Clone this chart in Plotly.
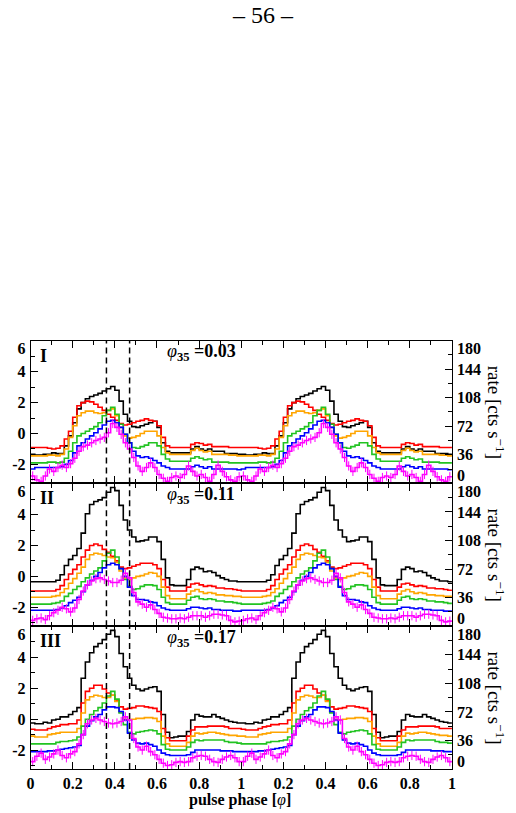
import numpy as np
import plotly.graph_objects as go

# ---------------- data (one pulse cycle, 50 phase bins of width 0.02) ----------------
N_BINS = 50
PANEL_NAMES = ["I", "II", "III"]
PANEL_PHI = ["0.03", "0.11", "0.17"]
DASH_PHASES = [0.36, 0.47]

X_TICK_VALUES = [0, 0.2, 0.4, 0.6, 0.8, 1.0, 1.2, 1.4, 1.6, 1.8, 2.0]
X_TICK_LABELS = ["0", "0.2", "0.4", "0.6", "0.8", "1", "0.2", "0.4", "0.6", "0.8", "1"]
X_MINOR_TICKS = [0.1, 0.3, 0.5, 0.7, 0.9, 1.1, 1.3, 1.5, 1.7, 1.9]
Y_TICK_VALUES = [-2, 0, 2, 4, 6]
Y_MINOR_TICKS = [-3, -1, 1, 3, 5]
Y_TICK_LABELS = ["-2", "0", "2", "4", "6"]
# label positions (edge labels are nudged inside the panel, as in the reference)
Y_LABEL_POS = [-2, 0, 2, 4, 5.5]
RATE_TICK_VALUES = [0, 36, 72, 108, 144, 180]
RATE_MINOR_TICKS = [18, 54, 90, 126, 162]
RATE_TICK_LABELS = ["0", "36", "72", "108", "144", "180"]
RATE_LABEL_POS = [10, 36, 72, 108, 144, 170]

SERIES_COLORS = ["#000000", "#ff0000", "#ffa500", "#22c322", "#0000ff", "#ff00ff"]

P1_BLACK = [-1.35, -1.4, -1.4, -1.35, -1.35, -1.25, -1.3, -1.3, -0.8, -0.15,
            0.7, 1.6, 2.0, 2.25, 2.4, 2.5, 2.6, 2.75, 2.9, 3.05,
            2.8, 2.1, 1.25, 0.8, 0.45, 0.4, 0.5, 0.6, 0.7, 0.8,
            0.4, -0.6, -1.15, -1.25, -1.25, -1.25, -1.25, -1.25, -1.0, -0.85,
            -1.0, -1.1, -1.0, -1.15, -1.15, -1.15, -1.3, -1.3, -1.3, -1.35]
P1_RED = [-0.9, -0.9, -0.9, -0.9, -0.95, -1.0, -0.95, -0.8, -0.35, 0.15,
          1.05, 1.8, 2.0, 2.1, 2.05, 1.9, 1.7, 1.5, 1.25, 1.05,
          0.85, 0.65, 0.55, 0.6, 0.7, 0.8, 0.85, 0.95, 0.85, 0.8,
          0.5, -0.25, -0.8, -0.9, -0.9, -0.9, -0.9, -0.9, -0.7, -0.6,
          -0.65, -0.75, -0.7, -0.85, -0.85, -0.85, -0.85, -0.9, -0.9, -0.9]
P1_ORANGE = [-1.45, -1.45, -1.45, -1.45, -1.4, -1.4, -1.45, -1.35, -1.0, -0.25,
             0.5, 1.15, 1.35, 1.45, 1.45, 1.35, 1.3, 1.35, 1.5, 1.6,
             1.15, 0.4, -0.15, -0.3, -0.25, -0.15, 0.0, 0.15, 0.15, 0.15,
             -0.15, -0.9, -1.25, -1.35, -1.35, -1.35, -1.35, -1.35, -1.1, -0.95,
             -1.1, -1.2, -1.15, -1.35, -1.35, -1.35, -1.35, -1.4, -1.4, -1.45]
P1_GREEN = [-1.9, -1.9, -1.9, -1.9, -1.85, -1.85, -1.9, -1.85, -1.6, -1.15,
            -0.6, -0.15, 0.0, 0.15, 0.3, 0.45, 0.7, 1.15, 1.5, 1.7,
            1.25, 0.6, -0.05, -0.6, -0.9, -0.95, -0.85, -0.75, -0.6, -0.6,
            -0.8, -1.35, -1.65, -1.8, -1.8, -1.8, -1.8, -1.8, -1.6, -1.5,
            -1.6, -1.7, -1.65, -1.85, -1.85, -1.85, -1.85, -1.9, -1.9, -1.9]
P1_BLUE = [-2.3, -2.2, -2.2, -2.2, -2.2, -2.2, -2.2, -2.15, -2.0, -1.75,
           -1.25, -0.8, -0.6, -0.35, -0.15, 0.05, 0.3, 0.55, 0.8, 0.85,
           0.7, 0.4, -0.05, -0.6, -1.15, -1.45, -1.55, -1.5, -1.6, -1.75,
           -1.9, -2.1, -2.2, -2.3, -2.3, -2.3, -2.3, -2.3, -2.15, -2.05,
           -2.15, -2.25, -2.15, -2.3, -2.3, -2.3, -2.3, -2.3, -2.3, -2.35]
P1_MAGENTA = [-2.75, -3.0, -3.1, -2.75, -2.3, -2.45, -2.2, -2.05, -2.2, -1.95,
              -1.6, -1.15, -0.85, -0.75, -0.6, -0.45, -0.35, -0.25, 0.05, 0.65,
              0.4, -0.05, -0.6, -1.0, -1.55, -2.1, -2.45, -2.2, -1.9, -2.2,
              -2.65, -2.9, -3.1, -2.85, -2.75, -2.85, -2.65, -2.1, -2.45, -2.75,
              -2.65, -2.85, -3.1, -2.65, -2.05, -2.45, -2.8, -3.0, -3.1, -2.8]

P2_BLACK = [-0.35, -0.35, -0.35, -0.35, -0.35, -0.35, -0.25, 0.1, 0.7, 1.1,
            1.35, 1.8, 2.8, 4.05, 4.65, 4.85, 4.95, 5.1, 5.45, 5.75,
            5.55, 4.6, 3.65, 3.0, 2.55, 2.25, 2.3, 2.35, 2.55, 2.55,
            2.25, 1.1, -0.1, -0.55, -0.6, -0.6, -0.6, -0.2, 0.45, 0.6,
            0.5, 0.3, 0.35, 0.25, 0.05, -0.1, -0.2, -0.3, -0.3, -0.35]
P2_RED = [-0.95, -0.95, -0.95, -0.95, -0.95, -0.95, -0.85, -0.6, -0.2, 0.15,
          0.45, 0.75, 1.25, 1.7, 2.0, 2.1, 2.0, 1.75, 1.55, 1.3,
          1.0, 0.6, 0.5, 0.55, 0.65, 0.75, 0.85, 0.85, 0.85, 0.75,
          0.5, -0.2, -0.7, -0.95, -0.95, -0.95, -0.95, -0.7, -0.5, -0.45,
          -0.55, -0.65, -0.6, -0.65, -0.75, -0.75, -0.8, -0.8, -0.85, -0.9]
P2_ORANGE = [-1.35, -1.35, -1.35, -1.35, -1.35, -1.3, -1.25, -1.05, -0.8, -0.45,
             -0.15, 0.2, 0.6, 1.1, 1.4, 1.5, 1.45, 1.35, 1.25, 1.2,
             0.9, 0.35, -0.1, -0.2, -0.1, 0.0, 0.05, 0.15, 0.25, 0.2,
             0.0, -0.7, -1.25, -1.45, -1.45, -1.45, -1.45, -1.15, -0.95, -0.85,
             -1.0, -1.1, -1.05, -1.1, -1.2, -1.2, -1.25, -1.25, -1.3, -1.3]
P2_GREEN = [-1.8, -1.8, -1.8, -1.8, -1.8, -1.75, -1.7, -1.6, -1.3, -1.1,
            -0.85, -0.65, -0.35, -0.1, 0.15, 0.35, 0.55, 1.0, 1.5, 1.7,
            1.25, 0.5, -0.2, -0.65, -0.85, -0.8, -0.65, -0.55, -0.55, -0.6,
            -0.85, -1.35, -1.7, -1.8, -1.8, -1.8, -1.8, -1.55, -1.35, -1.3,
            -1.45, -1.5, -1.45, -1.5, -1.6, -1.6, -1.65, -1.65, -1.7, -1.75]
P2_BLUE = [-2.2, -2.2, -2.2, -2.2, -2.2, -2.2, -2.15, -2.05, -1.9, -1.7,
           -1.55, -1.35, -1.0, -0.55, -0.25, 0.0, 0.25, 0.55, 0.75, 0.85,
           0.75, 0.5, 0.0, -0.7, -1.25, -1.5, -1.5, -1.55, -1.65, -1.7,
           -1.9, -2.05, -2.15, -2.2, -2.2, -2.2, -2.2, -2.1, -2.0, -2.0,
           -2.05, -2.1, -2.05, -2.15, -2.15, -2.2, -2.2, -2.2, -2.25, -2.25]
P2_MAGENTA = [-2.85, -2.75, -2.7, -2.8, -2.55, -2.35, -2.2, -2.0, -2.1, -2.3,
              -2.05, -1.5, -0.95, -0.55, -0.3, -0.15, -0.1, -0.2, -0.3, -0.4,
              -0.4, -0.25, 0.2, -0.1, -1.05, -1.65, -1.8, -2.0, -1.85, -2.15,
              -2.4, -2.65, -2.7, -2.75, -2.75, -2.7, -2.75, -2.65, -2.55, -2.55,
              -2.55, -2.65, -2.55, -2.45, -2.45, -2.5, -2.55, -2.85, -2.95, -2.9]

P3_BLACK = [-0.25, -0.3, -0.3, -0.2, -0.25, -0.05, 0.0, 0.15, 0.15, 0.3,
            0.5, 0.75, 2.65, 3.7, 4.3, 4.7, 4.9, 5.15, 5.5, 5.75,
            5.35, 4.25, 3.4, 2.65, 2.2, 1.95, 1.85, 1.95, 2.05, 2.1,
            1.8, 0.3, -0.85, -1.2, -1.15, -1.1, -1.1, -0.8, -0.05, 0.3,
            0.2, 0.15, 0.15, 0.3, 0.15, 0.05, -0.05, -0.15, -0.2, -0.25]
P3_RED = [-0.65, -0.7, -0.7, -0.7, -0.6, -0.5, -0.45, -0.35, -0.35, -0.3,
          -0.3, -0.05, 1.05, 1.8, 2.0, 2.2, 2.2, 1.95, 1.7, 1.55,
          1.2, 0.8, 0.65, 0.7, 0.75, 0.85, 0.85, 0.8, 0.75, 0.7,
          0.5, -0.6, -1.2, -1.4, -1.4, -1.4, -1.4, -1.1, -0.7, -0.5,
          -0.5, -0.5, -0.45, -0.45, -0.45, -0.45, -0.5, -0.6, -0.6, -0.6]
P3_ORANGE = [-1.1, -1.15, -1.15, -1.15, -1.0, -0.95, -0.9, -0.85, -0.85, -0.85,
             -0.85, -0.6, 0.4, 1.25, 1.45, 1.55, 1.5, 1.4, 1.4, 1.55,
             1.15, 0.45, 0.0, -0.05, 0.0, 0.05, 0.05, 0.1, 0.1, 0.05,
             -0.15, -1.1, -1.6, -1.75, -1.75, -1.75, -1.75, -1.5, -1.1, -0.9,
             -0.95, -0.9, -0.85, -0.85, -0.9, -0.95, -1.0, -1.05, -1.05, -1.1]
P3_GREEN = [-1.6, -1.6, -1.6, -1.6, -1.6, -1.6, -1.5, -1.45, -1.45, -1.4,
            -1.35, -1.15, -0.45, 0.0, 0.3, 0.55, 0.75, 1.05, 1.5, 1.8,
            1.3, 0.4, -0.35, -0.85, -0.95, -0.85, -0.8, -0.75, -0.7, -0.75,
            -0.95, -1.65, -1.95, -2.0, -2.0, -2.0, -2.0, -1.8, -1.5, -1.35,
            -1.4, -1.35, -1.35, -1.35, -1.35, -1.35, -1.45, -1.5, -1.5, -1.55]
P3_BLUE = [-2.1, -2.1, -2.1, -2.1, -2.05, -2.05, -2.0, -1.95, -1.9, -1.85,
           -1.8, -1.7, -1.0, -0.45, -0.1, 0.15, 0.3, 0.6, 0.8, 0.8,
           0.75, 0.5, -0.05, -0.9, -1.35, -1.55, -1.6, -1.55, -1.65, -1.75,
           -2.0, -2.2, -2.3, -2.35, -2.35, -2.35, -2.35, -2.3, -2.15, -2.0,
           -2.0, -2.0, -2.0, -2.0, -2.0, -2.05, -2.05, -2.05, -2.1, -2.1]
P3_MAGENTA = [-2.75, -2.4, -2.2, -2.6, -2.45, -2.25, -2.0, -2.35, -2.5, -2.25,
              -2.1, -1.6, -1.0, -0.3, -0.05, 0.05, -0.05, -0.15, -0.25, -0.3,
              -0.25, -0.15, 0.15, -0.05, -1.25, -1.8, -2.0, -1.75, -2.1, -2.3,
              -2.6, -2.85, -3.0, -2.95, -2.8, -2.75, -2.8, -2.75, -2.5, -2.4,
              -2.35, -2.4, -2.6, -2.75, -2.8, -2.6, -2.45, -2.35, -2.5, -2.75]

PANELS = [
    [P1_BLACK, P1_RED, P1_ORANGE, P1_GREEN, P1_BLUE, P1_MAGENTA],
    [P2_BLACK, P2_RED, P2_ORANGE, P2_GREEN, P2_BLUE, P2_MAGENTA],
    [P3_BLACK, P3_RED, P3_ORANGE, P3_GREEN, P3_BLUE, P3_MAGENTA],
]
MAGENTA_ERR = 0.3

# ---------------- layout geometry (pixels) ----------------
W, H = 516, 813
PLOT_LEFT, PLOT_RIGHT = 27, 455
PANEL_TOPS = [341, 484, 627]
PANEL_H = 143
Y_RANGE = [-3.23, 6.02]
RATE_RANGE = [0, 180]


def px_x(p):
    return p / W


def px_y(p):
    return 1 - p / H


edges = np.linspace(0.0, 2.0, 2 * N_BINS + 1)
centers = 0.5 * (edges[:-1] + edges[1:])

fig = go.Figure()
tick_font = dict(family="Liberation Serif", size=16, color="black", weight="bold")
LINE_W = 1.2


def axis_name(n):
    return "y" if n == 1 else f"y{n}"


def axis_key(n):
    return "yaxis" if n == 1 else f"yaxis{n}"


for i, series in enumerate(PANELS):
    xname = "x" if i == 0 else f"x{i + 1}"
    xkey = "xaxis" if i == 0 else f"xaxis{i + 1}"
    n0 = 4 * i + 1
    yl, yl_lab, yr, yr_lab = (axis_name(n0), axis_name(n0 + 1),
                              axis_name(n0 + 2), axis_name(n0 + 3))

    for vals, col in zip(series, SERIES_COLORS):
        two = list(vals) + list(vals)
        fig.add_trace(go.Scatter(
            x=edges, y=two + [two[-1]], mode="lines", line_shape="hv",
            line=dict(color=col, width=1.6), xaxis=xname, yaxis=yl,
            showlegend=False, hoverinfo="skip"))
    mag = list(series[5]) + list(series[5])
    fig.add_trace(go.Scatter(
        x=centers, y=mag, mode="markers", marker=dict(size=1, color="#ff00ff"),
        error_y=dict(type="constant", value=MAGENTA_ERR, thickness=1, width=0, color="#ff00ff"),
        xaxis=xname, yaxis=yl, showlegend=False, hoverinfo="skip"))
    # invisible traces so that the overlay axes are drawn
    for ya, rng in ((yl_lab, Y_RANGE), (yr, RATE_RANGE), (yr_lab, RATE_RANGE)):
        fig.add_trace(go.Scatter(x=[0], y=[rng[0]], mode="lines", line=dict(width=0),
                                 xaxis=xname, yaxis=ya, showlegend=False, hoverinfo="skip"))

    top = PANEL_TOPS[i]
    dom = [px_y(top + PANEL_H), px_y(top)]
    fig.layout[xkey] = dict(
        domain=[px_x(PLOT_LEFT), px_x(PLOT_RIGHT)], anchor=yl, range=[0, 2],
        tickmode="array", tickvals=X_TICK_VALUES, ticktext=X_TICK_LABELS,
        ticks="inside", ticklen=7, tickwidth=1, tickcolor="black",
        minor=dict(tickmode="array", tickvals=X_MINOR_TICKS,
                   ticks="inside", ticklen=4, tickcolor="black"),
        mirror="ticks", showline=True, linecolor="black", linewidth=LINE_W,
        showgrid=False, zeroline=False, showticklabels=(i == 2),
        ticklabelstandoff=0, tickfont=tick_font)
    # left: tick marks
    fig.layout[axis_key(n0)] = dict(
        domain=dom, anchor=xname, range=Y_RANGE,
        tickmode="array", tickvals=Y_TICK_VALUES, showticklabels=False,
        ticks="inside", ticklen=7, tickwidth=1, tickcolor="black",
        minor=dict(tickmode="array", tickvals=Y_MINOR_TICKS, ticks="inside",
                   ticklen=4, tickcolor="black"),
        showline=True, linecolor="black", linewidth=LINE_W,
        showgrid=False, zeroline=False)
    # left: labels
    fig.layout[axis_key(n0 + 1)] = dict(
        overlaying=yl, side="left", anchor=xname, range=Y_RANGE,
        tickmode="array", tickvals=Y_LABEL_POS, ticktext=Y_TICK_LABELS,
        ticks="", showline=False, showgrid=False, zeroline=False,
        ticklabelstandoff=4, tickfont=tick_font)
    # right: tick marks
    fig.layout[axis_key(n0 + 2)] = dict(
        overlaying=yl, side="right", anchor=xname, range=RATE_RANGE,
        tickmode="array", tickvals=RATE_TICK_VALUES, showticklabels=False,
        ticks="inside", ticklen=7, tickwidth=1, tickcolor="black",
        minor=dict(tickmode="array", tickvals=RATE_MINOR_TICKS, ticks="inside",
                   ticklen=4, tickcolor="black"),
        showline=True, linecolor="black", linewidth=LINE_W,
        showgrid=False, zeroline=False)
    # right: labels
    fig.layout[axis_key(n0 + 3)] = dict(
        overlaying=yl, side="right", anchor=xname, range=RATE_RANGE,
        tickmode="array", tickvals=RATE_LABEL_POS, ticktext=RATE_TICK_LABELS,
        ticks="", showline=False, showgrid=False, zeroline=False,
        ticklabelstandoff=4, tickfont=tick_font)

    for xp in DASH_PHASES:
        fig.add_shape(type="line", xref=xname, yref=f"{yl} domain", x0=xp, x1=xp, y0=0, y1=1,
                      line=dict(color="black", width=1.5, dash="6px,4px"))

    fig.add_annotation(text=f"<b>{PANEL_NAMES[i]}</b>", xref="paper", yref="paper",
                       x=px_x(35), y=px_y(top + 15), xanchor="left", yanchor="middle",
                       showarrow=False, font=dict(family="Liberation Serif", size=18, color="black"))
    fig.add_annotation(text=f"<i>φ</i><sub><b>35</b></sub>\u00a0<b>={PANEL_PHI[i]}</b>",
                       xref="paper", yref="paper", x=px_x(164), y=px_y(top + 12),
                       xanchor="left", yanchor="middle", showarrow=False,
                       font=dict(family="Liberation Serif", size=18, color="black"))
    fig.add_annotation(text="rate [cts s<sup>−1</sup>]", xref="paper", yref="paper",
                       x=px_x(500), y=px_y(top + PANEL_H / 2), textangle=90,
                       xanchor="center", yanchor="middle", showarrow=False,
                       font=dict(family="Liberation Serif", size=19, color="black"))

fig.add_annotation(text="<b>pulse phase [</b><i>φ</i><b>]</b>", xref="paper", yref="paper",
                   x=px_x(240), y=px_y(801), xanchor="center", yanchor="middle", showarrow=False,
                   font=dict(family="Liberation Serif", size=16, color="black"))
fig.add_annotation(text="– 56 –", xref="paper", yref="paper",
                   x=px_x(263), y=1.0, xanchor="center", yanchor="top", showarrow=False,
                   font=dict(family="Liberation Serif", size=24, color="black"))

fig.update_layout(width=W, height=H, margin=dict(l=0, r=0, t=0, b=0),
                  paper_bgcolor="white", plot_bgcolor="white",
                  font=dict(family="Liberation Serif", color="black"), showlegend=False)

fig.write_html("out.html")
